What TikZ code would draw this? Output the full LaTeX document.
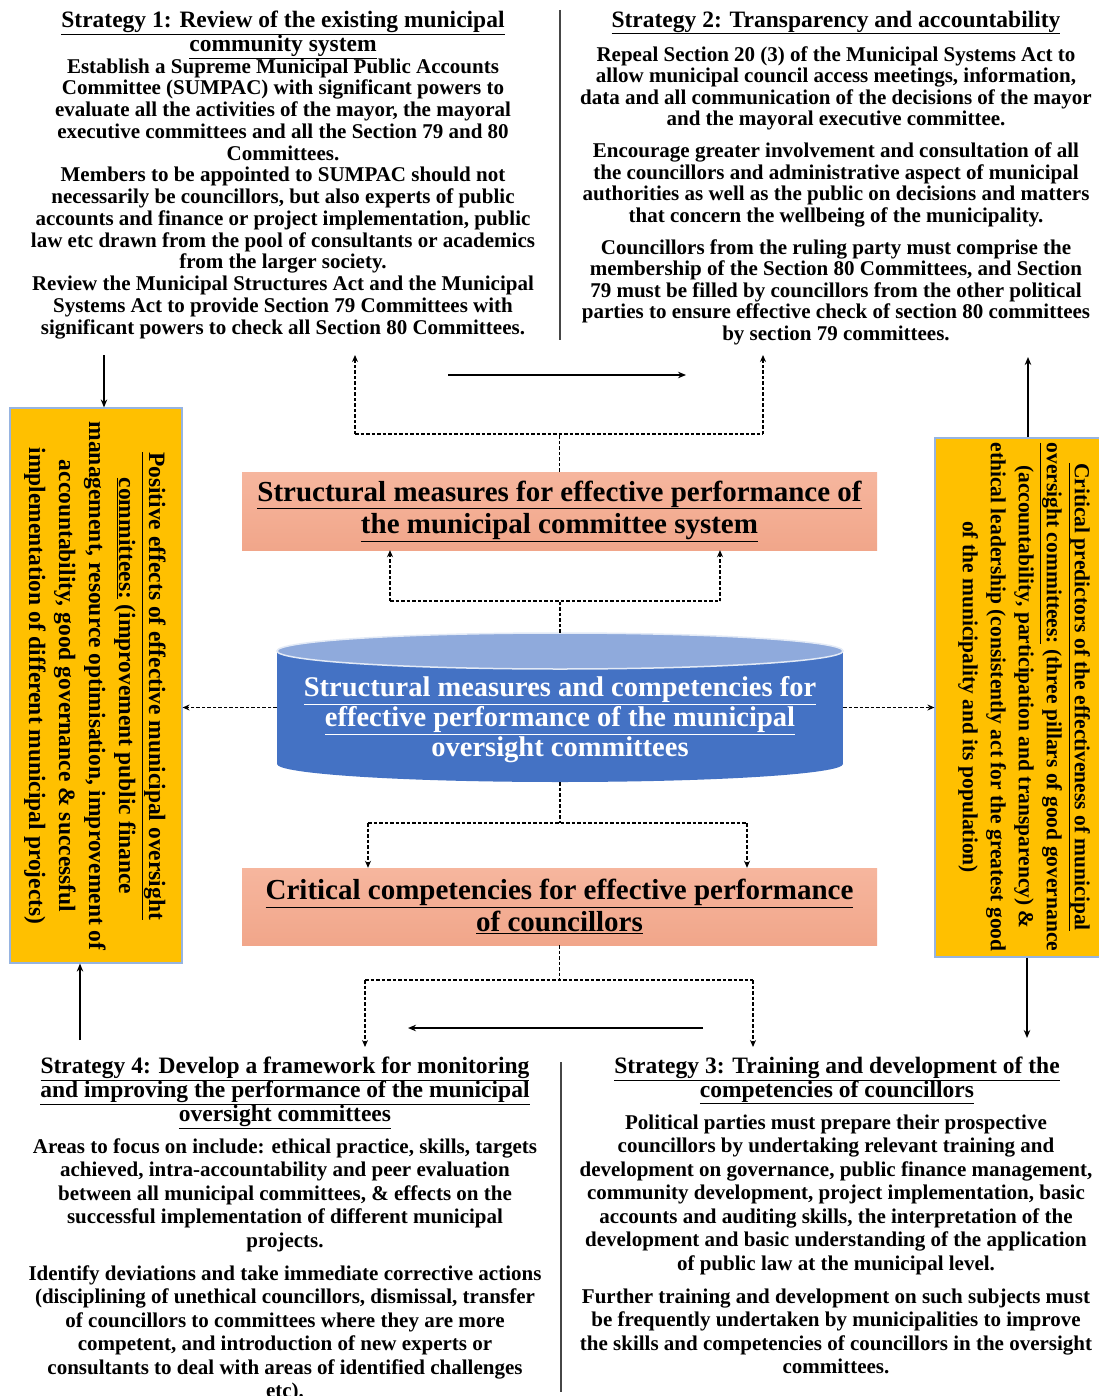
\documentclass[tikz,border=0pt]{standalone}
\usepackage{fontspec}
\setmainfont{Liberation Serif}
\usetikzlibrary{arrows.meta,calc}
\definecolor{salmon}{RGB}{241,166,138}
\definecolor{salmonlt}{RGB}{246,182,158}
\definecolor{gold}{RGB}{255,192,0}
\definecolor{cylbody}{RGB}{68,114,196}
\definecolor{cyltop}{RGB}{143,170,220}
\definecolor{edgeblue}{RGB}{150,180,225}
\definecolor{sepgray}{RGB}{70,70,70}
\begin{document}
\begin{tikzpicture}[x=1pt,y=-1pt,
  txt/.style={inner sep=0pt, align=center, text=black},
  ttl/.style={txt, font=\fontsize{23.5}{24}\selectfont\bfseries},
  bdy/.style={txt, font=\fontsize{21}{21.75}\selectfont\bfseries},
  bdyb/.style={txt, font=\fontsize{21}{23.5}\selectfont\bfseries},
  boxtxt/.style={txt, font=\fontsize{29}{32}\selectfont\bfseries},
  cyltxt/.style={txt, text=white, font=\fontsize{28.5}{30}\selectfont\bfseries},
  postxt/.style={txt, rotate=-90, font=\fontsize{23.5}{30}\selectfont\bfseries},
  crittxt/.style={txt, rotate=-90, font=\fontsize{21.5}{28}\selectfont\bfseries},
  salmonbox/.style={inner sep=0pt, minimum width=635pt, shading=axis, top color=salmonlt, bottom color=salmon},
  goldbox/.style={inner sep=0pt, fill=gold, draw=edgeblue, line width=1.2pt},
  arr/.style={draw=black, line width=1.4pt, -{Stealth[length=8pt,width=6.5pt]}},
  dsh/.style={draw=black, line width=1.4pt, dash pattern=on 3.5pt off 2pt},
  dsharr/.style={dsh, -{Stealth[length=7pt,width=6pt]}},
  sepline/.style={draw=sepgray, line width=2.2pt}
]
\clip (0,0) rectangle (1099,1396);
\fill[white] (0,0) rectangle (1099,1396);

% ---------- Strategy 1 ----------
\node[ttl, anchor=north] (s1t) at (283,10.5)
  {\underline{Strategy 1: Review of the existing municipal}\\
   \underline{community system}};
\node[bdy, anchor=north] (s1) at (283,58.4)
  {Establish a Supreme Municipal Public Accounts\\
   Committee (SUMPAC) with significant powers to\\
   evaluate all the activities of the mayor, the mayoral\\
   executive committees and all the Section 79 and 80\\
   Committees.\\
   Members to be appointed to SUMPAC should not\\
   necessarily be councillors, but also experts of public\\
   accounts and finance or project implementation, public\\
   law etc drawn from the pool of consultants or academics\\
   from the larger society.\\
   Review the Municipal Structures Act and the Municipal\\
   Systems Act to provide Section 79 Committees with\\
   significant powers to check all Section 80 Committees.};

% ---------- Strategy 2 ----------
\node[ttl, anchor=north] (s2t) at (836,10.5)
  {\underline{Strategy 2: Transparency and accountability}};
\node[bdy, anchor=north, font=\fontsize{21}{21.5}\selectfont\bfseries] (s2) at (836,46.4)
  {Repeal Section 20 (3) of the Municipal Systems Act to\\
   allow municipal council access meetings, information,\\
   data and all communication of the decisions of the mayor\\
   and the mayoral executive committee.\\[10.5pt]
   Encourage greater involvement and consultation of all\\
   the councillors and administrative aspect of municipal\\
   authorities as well as the public on decisions and matters\\
   that concern the wellbeing of the municipality.\\[10.5pt]
   Councillors from the ruling party must comprise the\\
   membership of the Section 80 Committees, and Section\\
   79 must be filled by councillors from the other political\\
   parties to ensure effective check of section 80 committees\\
   by section 79 committees.};

% ---------- Strategy 4 ----------
\node[ttl, anchor=north] (s4t) at (285,1056.5)
  {\underline{Strategy 4: Develop a framework for monitoring}\\
   \underline{and improving the performance of the municipal}\\
   \underline{oversight committees}};
\node[bdyb, anchor=north] (s4) at (285,1138.4)
  {Areas to focus on include: ethical practice, skills, targets\\
   achieved, intra-accountability and peer evaluation\\
   between all municipal committees, \& effects on the\\
   successful implementation of different municipal\\
   projects.\\[9.5pt]
   Identify deviations and take immediate corrective actions\\
   (disciplining of unethical councillors, dismissal, transfer\\
   of councillors to committees where they are more\\
   competent, and introduction of new experts or\\
   consultants to deal with areas of identified challenges\\
   etc).};

% ---------- Strategy 3 ----------
\node[ttl, anchor=north] (s3t) at (837,1056.5)
  {\underline{Strategy 3: Training and development of the}\\
   \underline{competencies of councillors}};
\node[bdyb, anchor=north] (s3) at (836,1114.4)
  {Political parties must prepare their prospective\\
   councillors by undertaking relevant training and\\
   development on governance, public finance management,\\
   community development, project implementation, basic\\
   accounts and auditing skills, the interpretation of the\\
   development and basic understanding of the application\\
   of public law at the municipal level.\\[9.5pt]
   Further training and development on such subjects must\\
   be frequently undertaken by municipalities to improve\\
   the skills and competencies of councillors in the oversight\\
   committees.};

% ---------- separators ----------
\draw[sepline] (560,10) -- (560,340);
\draw[sepline] (561,1062) -- (561,1392);

% ---------- salmon boxes ----------
\node[salmonbox, minimum height=78pt] (smb) at (559.5,511) {};
\node[boxtxt] (smbt) at (559.5,511)
  {\underline{Structural measures for effective performance of}\\
   \underline{the municipal committee system}};
\node[salmonbox, minimum height=77pt] (ccb) at (559.5,906.5) {};
\node[boxtxt] (ccbt) at (559.5,906.5)
  {\underline{Critical competencies for effective performance}\\
   \underline{of councillors}};

% ---------- cylinder ----------
\fill[cylbody] (277,651) rectangle (843,764);
\fill[cylbody] (560,764) ellipse [x radius=283, y radius=18];
\filldraw[fill=cyltop, draw=white!75!cyltop, line width=1.5pt] (560,651) ellipse [x radius=283, y radius=18];
\node[inner sep=0pt, minimum width=566pt, minimum height=149pt] (cyl) at (560,707.5) {};
\node[cyltxt] (cylt) at (560,720)
  {\underline{Structural measures and competencies for}\\
   \underline{effective performance of the municipal}\\
   oversight committees};

% ---------- side boxes ----------
\node[goldbox, minimum width=172pt, minimum height=555pt] (pos) at (96,685.5) {};
\node[postxt] (post) at (95,686)
  {\underline{Positive effects of effective municipal oversight}\\
   \underline{committees:} (improvement public finance\\
   management, resource optimisation, improvement of\\
   accountability, good governance \& successful\\
   implementation of different municipal projects)};
\node[goldbox, minimum width=166pt, minimum height=519pt] (crit) at (1018,697.5) {};
\node[crittxt] (critt) at (1024,697)
  {\underline{Critical predictors of the effectiveness of municipal}\\
   \underline{oversight committees:} (three pillars of good governance\\
   (accountability, participation and transparency) \&\\
   ethical leadership (consistently act for the greatest good\\
   of the municipality and its population)};

% ---------- solid arrows ----------
\coordinate (s1out) at (104,355);
\draw[arr] (s1out) -- (s1out |- pos.north);
\coordinate (s2in) at (1028,357);
\draw[arr] (s2in |- crit.north) -- (s2in);
\coordinate (s4out) at (80,1040);
\draw[arr] (s4out) -- (s4out |- pos.south);
\coordinate (s3in) at (1027,1038);
\draw[arr] (s3in |- crit.south) -- (s3in);
\coordinate (h1a) at (448,375);
\coordinate (h1b) at (686,375);
\draw[arr] (h1a) -- (h1b);
\coordinate (h2a) at (703,1028);
\coordinate (h2b) at (408,1028);
\draw[arr] (h2a) -- (h2b);

% ---------- dashed tree: structural box -> strategies 1,2 ----------
\coordinate (t1) at (559.5,434);
\coordinate (t1l) at (355,434);
\coordinate (t1r) at (763,434);
\coordinate (e1l) at (355,355);
\coordinate (e1r) at (763,355);
\draw[dsh] (smb.north) -- (t1);
\draw[dsh] (t1l) -- (t1r);
\draw[dsharr] (t1l) -- (e1l);
\draw[dsharr] (t1r) -- (e1r);

% ---------- dashed tree: cylinder -> structural box ----------
\coordinate (t2) at (560,601);
\coordinate (t2l) at (390,601);
\coordinate (t2r) at (720,601);
\draw[dsh] (cyl.north) -- (t2);
\draw[dsh] (t2l) -- (t2r);
\draw[dsharr] (t2l) -- (t2l |- smb.south);
\draw[dsharr] (t2r) -- (t2r |- smb.south);

% ---------- dashed tree: cylinder -> competencies box ----------
\coordinate (t3) at (560,823);
\coordinate (t3l) at (368,823);
\coordinate (t3r) at (747,823);
\draw[dsh] (cyl.south) -- (t3);
\draw[dsh] (t3l) -- (t3r);
\draw[dsharr] (t3l) -- (t3l |- ccb.north);
\draw[dsharr] (t3r) -- (t3r |- ccb.north);

% ---------- dashed tree: competencies box -> strategies 4,3 ----------
\coordinate (t4) at (559.5,980);
\coordinate (t4l) at (365,980);
\coordinate (t4r) at (753,980);
\coordinate (e4l) at (365,1047);
\coordinate (e4r) at (753,1047);
\draw[dsh] (ccb.south) -- (t4);
\draw[dsh] (t4l) -- (t4r);
\draw[dsharr] (t4l) -- (e4l);
\draw[dsharr] (t4r) -- (e4r);

% ---------- cylinder -> side boxes ----------
\draw[dsharr] (cyl.west) -- (cyl.west -| pos.east);
\draw[dsharr] (cyl.east) -- (cyl.east -| crit.west);
\end{tikzpicture}
\end{document}
